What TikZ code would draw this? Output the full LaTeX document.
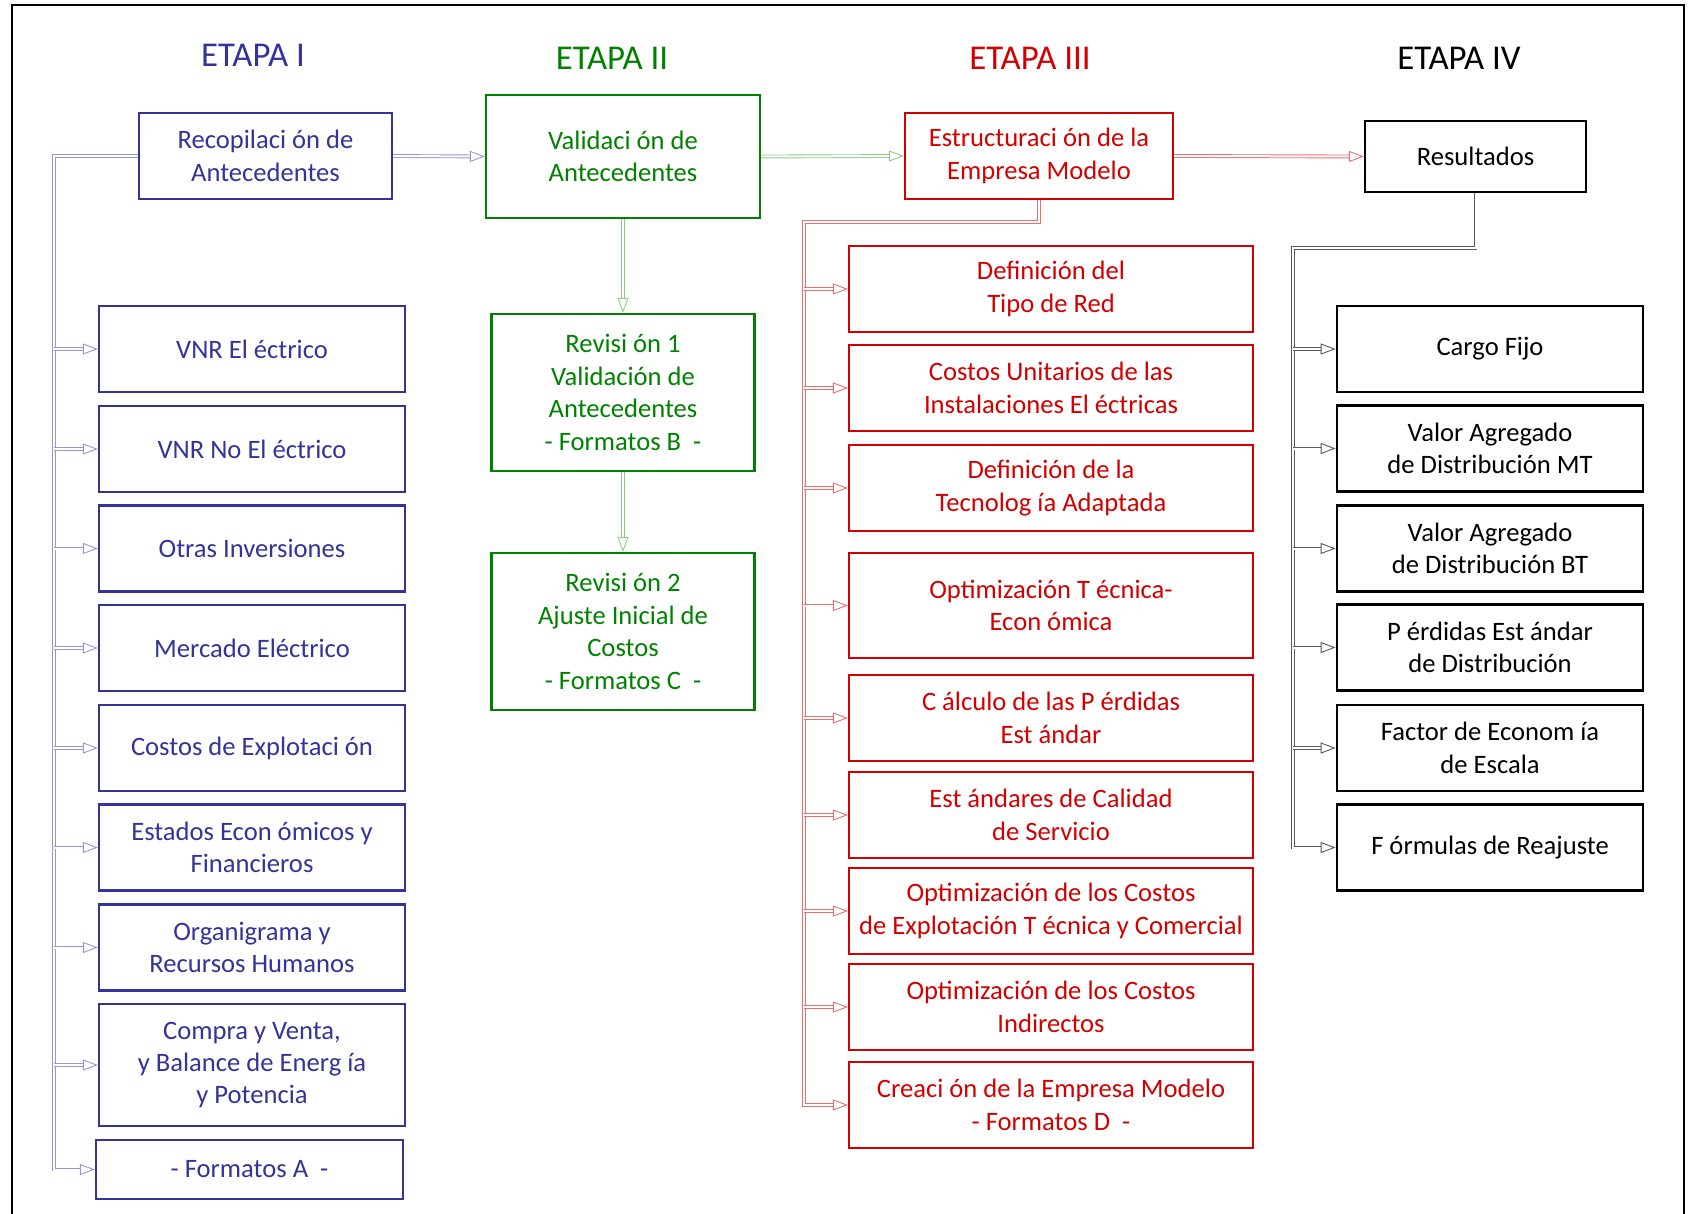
\documentclass[tikz,border=0pt]{standalone}
\usepackage{fontspec}
\setmainfont{Carlito}
\usetikzlibrary{arrows.meta}
\definecolor{cblue}{RGB}{51,51,153}
\definecolor{cgreen}{RGB}{0,130,0}
\definecolor{cred}{RGB}{210,0,0}
\definecolor{lblue}{RGB}{150,150,210}
\definecolor{lgreen}{RGB}{140,205,140}
\definecolor{lred}{RGB}{235,110,110}
\definecolor{lgrey}{RGB}{90,90,90}
\begin{document}
\begin{tikzpicture}[x=0.5pt,y=-0.5pt,
  box/.style={draw, line width=1.1pt, align=center, inner sep=1pt,
    font=\fontsize{13.3}{16.2}\selectfont},
  bbox/.style={box, draw=cblue, text=cblue},
  gbox/.style={box, draw=cgreen, text=cgreen},
  rbox/.style={box, draw=cred, text=cred},
  kbox/.style={box, draw=black, text=black},
  wh/.style 2 args={minimum width=#1*0.5pt, minimum height=#2*0.5pt},
  head/.style={font=\fontsize{17.4}{21}\selectfont},
  conn/.style={draw=#1, line width=0.45pt, double=white, double distance=1pt},
  arr/.style={-{Triangle[open,length=7.5pt,width=5.5pt]}}
]
\useasboundingbox (0,0) rectangle (1691,1214);
% outer frame
\draw[line width=1.2pt] (12,1230) -- (12,5) -- (1684,5) -- (1684,1230);

% stage headings
\node[head, text=cblue]  (h1) at (253,55)  {ETAPA I};
\node[head, text=cgreen] (h2) at (612,58)  {ETAPA II};
\node[head, text=cred]   (h3) at (1030,58) {ETAPA III};
\node[head, text=black]  (h4) at (1459,58) {ETAPA IV};

% stage I
\node[bbox, wh={253}{86}]  (rec) at (265.5,156) {Recopilaci ón de\\Antecedentes};
\node[bbox, wh={306}{86}]  (v1) at (252,349)   {VNR El éctrico};
\node[bbox, wh={306}{86}]  (v2) at (252,449)   {VNR No El éctrico};
\node[bbox, wh={306}{86}]  (v3) at (252,548.5) {Otras Inversiones};
\node[bbox, wh={306}{86}]  (v4) at (252,648)   {Mercado Eléctrico};
\node[bbox, wh={306}{86}]  (v5) at (252,748)   {Costos de Explotaci ón};
\node[bbox, wh={306}{86}]  (v6) at (252,847.5) {Estados Econ ómicos y\\Financieros};
\node[bbox, wh={306}{86}]  (v7) at (252,947.5) {Organigrama y\\Recursos Humanos};
\node[bbox, wh={306}{122}] (v8) at (252,1065)  {Compra y Venta,\\y Balance de Energ ía\\y Potencia};
\node[bbox, wh={307}{59}]  (fa) at (249.5,1169.5) {- Formatos A \ -};

% stage II
\node[gbox, wh={274}{123}] (val)  at (623,156.5) {Validaci ón de\\Antecedentes};
\node[gbox, wh={263}{157}] (rev1) at (623,392.5) {Revisi ón 1\\Validación de\\Antecedentes\\- Formatos B \ -};
\node[gbox, wh={263}{157}] (rev2) at (623,631.5) {Revisi ón 2\\Ajuste Inicial de\\Costos\\- Formatos C \ -};

% stage III
\node[rbox, wh={268}{86}]  (est) at (1039,156) {Estructuraci ón de la\\Empresa Modelo};
\node[rbox, wh={404}{86}]  (r1) at (1051,289)    {Definición del\\Tipo de Red};
\node[rbox, wh={404}{86}]  (r2) at (1051,388)    {Costos Unitarios de las\\Instalaciones El éctricas};
\node[rbox, wh={404}{86}]  (r3) at (1051,488)    {Definición de la\\Tecnolog ía Adaptada};
\node[rbox, wh={404}{105}] (r4) at (1051,605.5)  {Optimización T écnica-\\Econ ómica};
\node[rbox, wh={404}{86}]  (r5) at (1051,718)    {C álculo de las P érdidas\\Est ándar};
\node[rbox, wh={404}{86}]  (r6) at (1051,815)    {Est ándares de Calidad\\de Servicio};
\node[rbox, wh={404}{86}]  (r7) at (1051,911)    {Optimización de los Costos\\de Explotación T écnica y Comercial};
\node[rbox, wh={404}{86}]  (r8) at (1051,1007)   {Optimización de los Costos\\Indirectos};
\node[rbox, wh={404}{86}]  (r9) at (1051,1105)   {Creaci ón de la Empresa Modelo\\- Formatos D \ -};

% stage IV
\node[kbox, wh={221}{71}]   (res) at (1475.5,156.5) {Resultados};
\node[kbox, wh={306.5}{86}] (k1) at (1490,349)   {Cargo Fijo};
\node[kbox, wh={306.5}{86}] (k2) at (1490,448.5) {Valor Agregado\\de Distribución MT};
\node[kbox, wh={306.5}{86}] (k3) at (1490,548.5) {Valor Agregado\\de Distribución BT};
\node[kbox, wh={306.5}{86}] (k4) at (1490,647.5) {P érdidas Est ándar\\de Distribución};
\node[kbox, wh={306.5}{86}] (k5) at (1490,748)   {Factor de Econom ía\\de Escala};
\node[kbox, wh={306.5}{86}] (k6) at (1490,847.5) {F órmulas de Reajuste};

% bus corners
\coordinate (bus1) at (54,156);
\coordinate (bus3) at (804,222);
\coordinate (bus4) at (1293,248.3);

% links between stages
\draw[conn=lblue, arr]  (rec.east) -- (val.west);
\draw[conn=lgreen, arr] (val.east) -- (est.west);
\draw[conn=lred, arr]   (est.east) -- (res.west);

% stage I distribution
\draw[conn=lblue, arr] (rec.west) -- (bus1) |- (fa.west);
\foreach \n in {v1,v2,v3,v4,v5,v6,v7,v8}
  \draw[conn=lblue, arr] (bus1 |- \n.west) -- (\n.west);

% stage II chain
\draw[conn=lgreen, arr] (val.south) -- (rev1.north);
\draw[conn=lgreen, arr] (rev1.south) -- (rev2.north);

% stage III distribution
\draw[conn=lred, arr] (est.south) |- (bus3) |- (r9.west);
\foreach \n in {r1,r2,r3,r4,r5,r6,r7,r8}
  \draw[conn=lred, arr] (bus3 |- \n.west) -- (\n.west);

% stage IV distribution
\draw[conn=lgrey, arr] (res.south) |- (bus4) |- (k6.west);
\foreach \n in {k1,k2,k3,k4,k5}
  \draw[conn=lgrey, arr] (bus4 |- \n.west) -- (\n.west);
\end{tikzpicture}
\end{document}
